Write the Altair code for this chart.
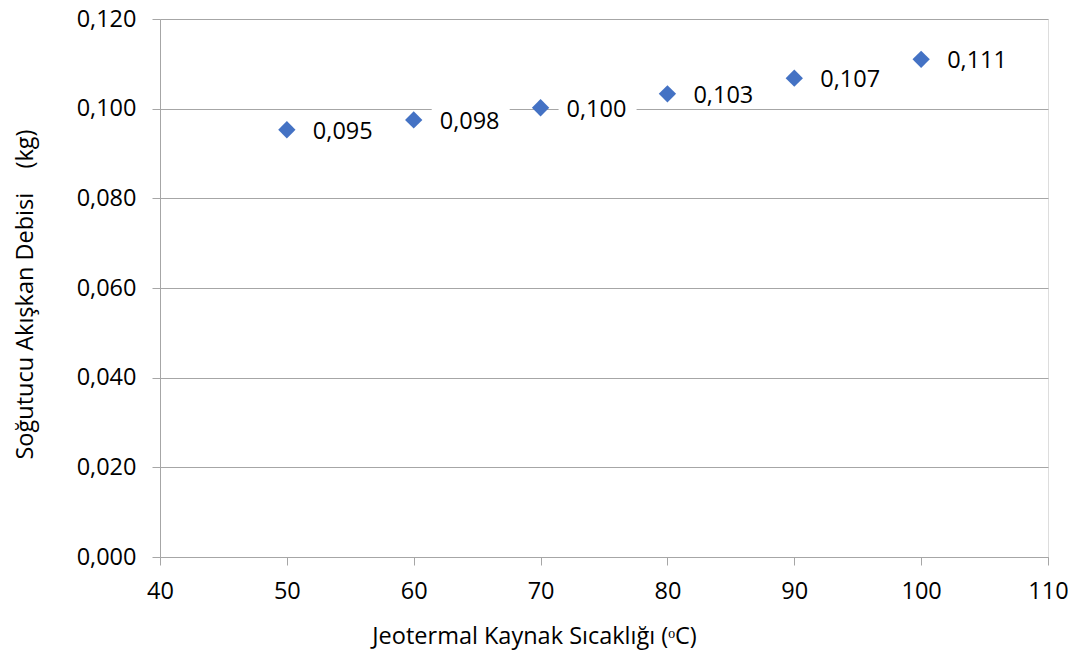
import altair as alt
import pandas as pd

temps = [50, 60, 70, 80, 90, 100]
flows = [0.0953, 0.0975, 0.1002, 0.1033, 0.1068, 0.1110]
labels = ["0,095", "0,098", "0,100", "0,103", "0,107", "0,111"]
x_ticks = [40, 50, 60, 70, 80, 90, 100, 110]
y_ticks = [0.0, 0.02, 0.04, 0.06, 0.08, 0.10, 0.12]

df = pd.DataFrame({"temp": temps, "flow": flows, "label": labels})

FONT = "Open Sans"
GREY = "#A6A6A6"
FS = 23.5

xs = alt.Scale(domain=[40, 110], nice=False, zero=False)
ys = alt.Scale(domain=[0, 0.12], nice=False)

x_axis = alt.Axis(
    values=x_ticks, grid=False, title="Jeotermal Kaynak Sıcaklığı (ᵒC)",
    domainColor=GREY, tickColor=GREY, tickSize=8, labelPadding=14,
    labelFlush=False, labelOverlap=False,
    labelFont=FONT, labelFontSize=FS, labelColor="#000000",
    titleFont=FONT, titleFontSize=FS, titleFontWeight="normal", titleColor="#000000",
    titleX=374, titleY=86, titleBaseline="alphabetic", titleAlign="center",
)
y_axis = alt.Axis(
    values=y_ticks, grid=True, gridColor=GREY,
    labelFlush=False, labelOverlap=False,
    labelExpr="replace(format(datum.value, '.3f'), '.', ',')",
    title="Soğutucu Akışkan Debisi\u00a0\u00a0\u00a0\u00a0(kg)",
    domainColor=GREY, tickColor=GREY, tickSize=8, labelPadding=16,
    labelFont=FONT, labelFontSize=FS, labelColor="#000000",
    titleFont=FONT, titleFontSize=FS, titleFontWeight="normal", titleColor="#000000",
    titleAngle=-90, titleX=-135, titleY=275, titleBaseline="middle", titleAlign="center",
)

base = alt.Chart(df)

points = base.mark_point(shape="diamond", filled=True, size=300, color="#4472C4", opacity=1).encode(
    x=alt.X("temp:Q", scale=xs, axis=x_axis),
    y=alt.Y("flow:Q", scale=ys, axis=y_axis),
)

boxes = base.mark_rect(color="white", xOffset=18, x2Offset=96, yOffset=-15, y2Offset=15).encode(
    x="temp:Q", x2="temp:Q", y="flow:Q", y2="flow:Q",
)

texts = base.mark_text(align="left", baseline="middle", dx=26, dy=2, font=FONT, fontSize=FS, color="#000000").encode(
    x="temp:Q", y="flow:Q", text="label:N",
)

chart = alt.layer(boxes, points, texts).properties(
    width=888, height=538,
    autosize=alt.AutoSizeParams(type="none"),
    padding={"left": 152, "top": 11, "right": 20, "bottom": 93},
).configure_view(stroke=None).configure(background="white")

chart.save("out.html", embed_options={"renderer": "svg", "actions": False})
